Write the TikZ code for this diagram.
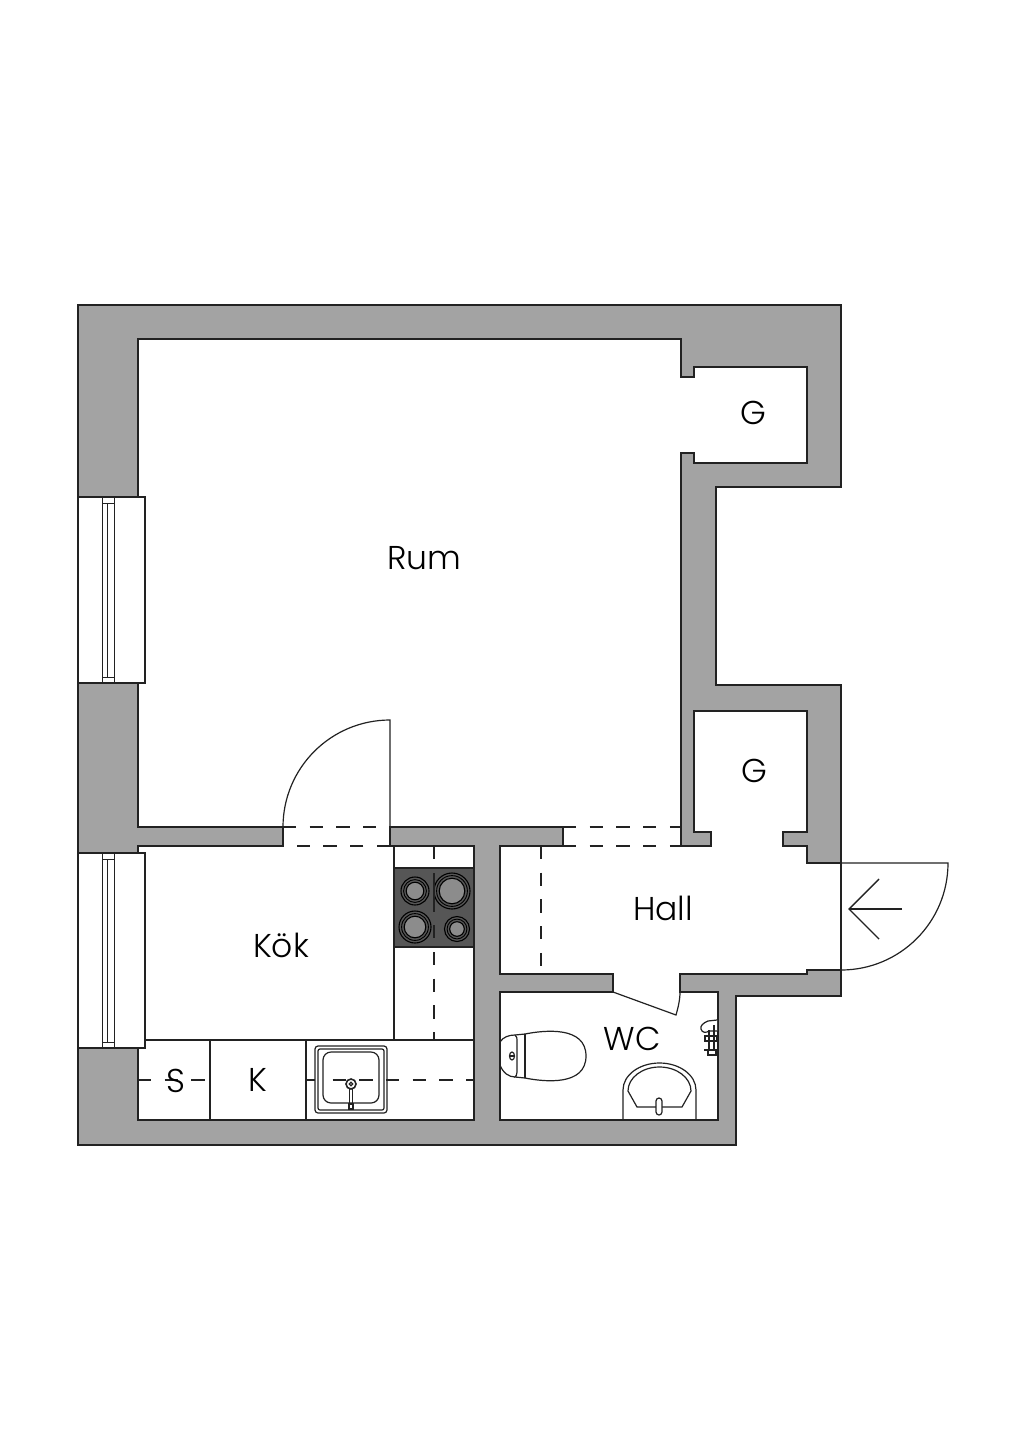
\documentclass[tikz,border=0pt]{standalone}
\usepackage{fontspec}
\setmainfont{Poppins}[UprightFont=* Light]
\definecolor{wallgray}{HTML}{A3A3A3}
\definecolor{hobdark}{HTML}{565656}
\definecolor{hobring}{HTML}{8C8C8C}
\definecolor{inkline}{HTML}{222222}
\tikzset{
  wall/.style={draw=inkline, line width=1.7pt, fill=wallgray, line join=miter},
  room/.style={draw=inkline, line width=1.7pt, fill=white},
  thinline/.style={draw=inkline, line width=1.2pt},
  hidden/.style={draw=inkline, line width=1.2pt, dash pattern=on 13.3pt off 13.4pt},
  roomlabel/.style={font=\fontsize{33}{33}\selectfont, text=black, inner sep=0pt},
}
\begin{document}
\begin{tikzpicture}[x=1pt, y=-1pt]
\useasboundingbox (0,0) rectangle (1024,1448);

% Outer walls
\draw[wall] (78,305) -- (841,305) -- (841,487) -- (716,487) -- (716,685) -- (841,685) -- (841,996)
  -- (736,996) -- (736,1145) -- (78,1145) -- cycle;

% All rooms as one floor
\draw[room] (138,339) -- (681,339) -- (681,377) -- (694,377) -- (694,367) -- (807,367) -- (807,463)
  -- (694,463) -- (694,453) -- (681,453) -- (681,846) -- (711,846) -- (711,832) -- (694,832)
  -- (694,711) -- (807,711) -- (807,832) -- (783,832) -- (783,846) -- (807,846) -- (807,863)
  -- (841,863) -- (841,970) -- (807,970) -- (807,974) -- (680,974) -- (680,992) -- (718,992)
  -- (718,1120) -- (500,1120) -- (500,992) -- (613,992) -- (613,974) -- (500,974) -- (500,846)
  -- (563,846) -- (563,827) -- (390,827) -- (390,846) -- (474,846) -- (474,1120) -- (138,1120)
  -- (138,1048) -- (145,1048) -- (145,853) -- (138,853) -- (138,846) -- (283,846) -- (283,827)
  -- (138,827) -- cycle;

% Windows
\foreach \ytop/\ybot in {497/683, 853/1048} {
    \draw[room, line width=1.5pt] (78,\ytop) rectangle (145,\ybot);
    \draw[thinline, line width=1pt] (102,\ytop) -- (102,\ybot);
    \draw[thinline, line width=1pt] (114,\ytop) -- (114,\ybot);
    \draw[thinline, line width=1pt] (107,\ytop+6) -- (107,\ybot-6);
    \draw[thinline, line width=1pt] (102,\ytop+6) -- (114,\ytop+6);
    \draw[thinline, line width=1pt] (102,\ybot-6) -- (114,\ybot-6);
}

% Door to Rum
\draw[thinline] (283,827) arc[start angle=180, end angle=270, radius=107] -- (390,827);
\draw[hidden] (283,827) -- (390,827);
\draw[hidden] (390,846) -- (283,846);

% Opening to hall
\draw[hidden] (563,827) -- (681,827);
\draw[hidden] (563,846) -- (681,846);
\draw[hidden] (541,846) -- (541,966);

% Entrance door
\draw[thinline] (841,970) -- (841,863) -- (948,863) arc[start angle=0, end angle=90, radius=107];
\draw[thinline, line width=1.4pt] (902,909) -- (849,909);
\draw[thinline, line width=1.4pt] (879,879) -- (849,909) -- (879,939);

% WC door
\draw[thinline] (613,992) -- (676,1015) .. controls (678,1008) and (680,1000) .. (680,992);

% Kitchen counter
\draw[thinline] (394,846) -- (394,1040);
\draw[thinline] (145,1040) -- (474,1040);
\draw[thinline] (210,1040) -- (210,1120);
\draw[thinline] (306,1040) -- (306,1120);

% Hob
\draw[thinline, fill=hobdark] (394,868) rectangle (474,947);
\foreach \cx/\cy/\rr in {415/891/14, 452/891/18, 415/927/16, 457/929/12.5} {
    \draw[draw=black, line width=1.1pt] (\cx,\cy) circle[radius=\rr];
    \draw[draw=black, line width=0.9pt] (\cx,\cy) circle[radius=\rr-2.6];
    \draw[draw=black, line width=1.1pt, fill=hobring] (\cx,\cy) circle[radius=\rr-5.2];
}
\draw[thinline] (434,873) -- (434,912);
\draw[thinline] (434,925) -- (434,938);
\draw[thinline] (434,846) -- (434,859);
\draw[hidden] (434,952) -- (434,1040);

% Sink
\draw[thinline, fill=white, rounded corners=3pt] (315,1046) rectangle (387,1113);
\draw[thinline, rounded corners=2pt] (318,1049) rectangle (384,1110);
\draw[thinline, rounded corners=8pt] (323,1052) rectangle (379,1103);
\draw[hidden] (138,1080) -- (210,1080);
\draw[thinline] (306,1080) -- (315,1080);
\draw[hidden] (332.7,1080) -- (372.7,1080);
\draw[hidden] (386,1080) -- (474,1080);
\draw[thinline, line width=1.6pt, fill=white] (351,1084) circle[radius=5];
\draw[thinline] (351,1084) circle[radius=1.8];
\draw[thinline] (349.5,1089) -- (349.5,1104);
\draw[thinline] (352.5,1089) -- (352.5,1104);
\draw[thinline, fill=white] (349,1104) rectangle (353,1109);

% Toilet
\draw[thinline] (500,1042) .. controls (503,1037) and (509,1035) .. (515,1035) -- (525,1034);
\draw[thinline] (515,1035) .. controls (517,1037) and (517,1038) .. (517,1040) -- (517,1072)
  .. controls (517,1075) and (516,1076) .. (515,1077) -- (525,1078);
\draw[thinline] (500,1065) .. controls (503,1073) and (509,1077) .. (515,1077);
\draw[thinline] (525,1034) -- (525,1078);
\draw[thinline] (525,1034) .. controls (545,1030) and (586,1026) .. (586,1056)
  .. controls (586,1086) and (545,1082) .. (525,1078);
\draw[thinline] (512,1056) ellipse[x radius=2.5, y radius=4];
\draw[thinline] (509.5,1056) -- (514.5,1056);

% Wash basin
\draw[thinline] (623,1120) -- (623,1090) arc[start angle=180, end angle=360, x radius=36.5, y radius=27] -- (696,1120);
\draw[thinline] (628,1091) arc[start angle=180, end angle=360, x radius=31.5, y radius=24]
  -- (682,1107) -- (637,1107) -- cycle;
\draw[thinline, fill=white, rounded corners=3pt] (656,1098) rectangle (662,1115);

% Wall tap
\draw[thinline, fill=white] (717,1020) -- (708,1021) .. controls (703,1023) and (700,1026) .. (701,1029)
  .. controls (702,1033) and (706,1033) .. (709,1031) -- (717,1031);
\draw[thinline, fill=white] (705,1036) rectangle (717,1041);
\draw[thinline] (709,1030) -- (709,1050);
\draw[thinline] (714,1025) -- (714,1050);
\draw[thinline] (704,1050) -- (717,1050);
\draw[thinline] (708,1050) -- (708,1055) -- (716,1055) -- (716,1050);

% Labels
\node[roomlabel] (rum) at (424,558) {Rum};
\node[roomlabel] (gnorth) at (753,413) {G};
\node[roomlabel] (gsouth) at (754,771) {G};
\node[roomlabel] (hall) at (663,908) {Hall};
\node[roomlabel] (kok) at (281,945) {Kök};
\node[roomlabel] (wc) at (632,1039) {WC};
\node[roomlabel] (sp) at (176,1081) {S};
\node[roomlabel] (kp) at (258,1080) {K};

\end{tikzpicture}
\end{document}
